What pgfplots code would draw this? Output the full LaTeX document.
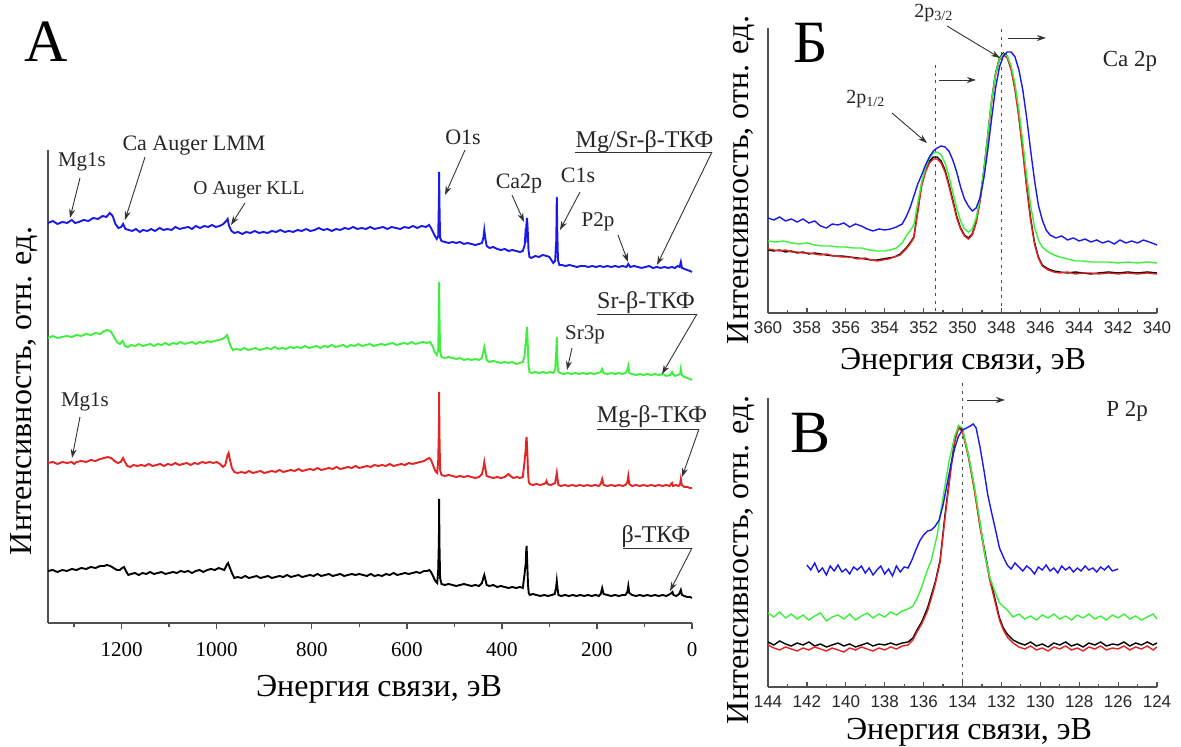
\documentclass[border=0pt]{standalone}
\usepackage{pgfplots}
\pgfplotsset{compat=1.18}
\usepackage{fontspec}
\setmainfont{Liberation Serif}
\newfontfamily\sansf{Liberation Sans}
\usetikzlibrary{arrows.meta}
\definecolor{cblue}{RGB}{25,25,235}
\definecolor{cgreen}{RGB}{60,240,60}
\definecolor{cred}{RGB}{230,35,35}
\definecolor{axgray}{RGB}{80,80,80}
\begin{document}
\begin{tikzpicture}
\path[use as bounding box] (0pt,0pt) rectangle (590.5pt,373.5pt);
\pgfplotsset{
  base/.style={scale only axis, axis lines=left, axis line style={-, axgray, line width=0.9pt},
    ytick=\empty, clip=false, y filter/.expression={747-y},
    /pgf/number format/assume math mode=true, /pgf/number format/1000 sep={}},
}
% ---------------- Panel A
\begin{axis}[base, at={(24pt,62pt)}, anchor=south west, width=322pt, height=236.5pt,
  xmin=0, xmax=1355, x dir=reverse, ymin=124, ymax=597,
  xtick={0,200,...,1200}, minor xtick={100,300,...,1300},
  tick align=outside, major tick length=3pt, minor tick length=2pt,
  tick style={axgray, line width=0.7pt},
  xticklabel style={font=\fontsize{10.5}{12}\selectfont, yshift=-3pt}]
\addplot[cblue, line width=0.95pt] coordinates {(1355,223) (1345,221) (1335,224) (1325,222) (1315,223) (1305,220) (1298,223) (1290,222) (1280,220) (1270,221) (1260,218) (1250,219) (1240,216) (1232,217) (1225,213) (1219,216) (1213,224) (1207,228) (1201,227) (1197,224) (1192,229) (1185,230) (1178,231) (1170,229) (1162,232) (1155,230) (1146,231) (1138,229) (1130,231) (1120,228) (1112,230) (1104,229) (1095,230) (1087,227) (1078,229) (1070,228) (1060,227) (1052,229) (1044,226) (1035,228) (1026,226) (1018,227) (1010,225) (1002,227) (994,226) (986,224) (980,221) (977,219) (974,226) (969,231) (963,233) (955,232) (946,234) (938,232) (929,233) (920,231) (911,233) (902,232) (893,233) (884,231) (875,232) (866,230) (857,232) (848,231) (839,232) (830,230) (821,231) (812,229) (803,231) (794,230) (785,228) (776,230) (767,229) (758,231) (749,229) (740,230) (731,228) (722,229) (713,227) (704,229) (695,228) (686,229) (677,227) (668,229) (659,228) (650,227) (641,229) (632,227) (623,228) (614,229) (605,227) (596,228) (587,226) (578,228) (569,226) (560,227) (553,225) (548,229) (542,235) (537,239) (534,236) (532.5,200) (532,172) (531.5,200) (530,238) (527,241) (520,242) (512,243) (504,242) (496,243) (488,242) (480,244) (472,243) (464,244) (456,245) (448,244) (442,243) (439,238) (437,230) (435,238) (432,246) (426,248) (418,247) (410,249) (402,250) (394,249) (386,251) (378,250) (370,251) (362,252) (356,251) (352,245) (350.5,234) (349.5,236) (348.5,225) (347,218) (345.5,232) (344,250) (342,257) (338,258) (330,256) (322,257) (314,255) (306,256) (300,257) (296,260) (292,263) (288,261) (285.5,240) (284.5,197) (283.5,230) (282,260) (279,265) (274,265) (266,266) (258,265) (250,266) (242,267) (234,266) (226,266) (218,267) (210,266) (202,267) (194,266) (186,267) (178,266) (170,267) (162,266) (154,267) (146,266) (138,267) (134,264) (130,267) (122,266) (114,267) (106,268) (98,267) (90,266) (82,268) (74,267) (66,268) (58,267) (50,268) (42,267) (36,268) (30,266) (26,267) (23.5,262) (21,268) (16,269) (10,270) (4,271) (0,272)};
\addplot[cgreen, line width=0.95pt] coordinates {(1355,338) (1345,336) (1335,338) (1325,337) (1315,336) (1305,337) (1295,335) (1285,336) (1275,334) (1265,335) (1255,333) (1245,334) (1237,331) (1229,330) (1222,332) (1216,337) (1210,342) (1204,344) (1198,341) (1193,346) (1187,347) (1180,345) (1172,346) (1164,344) (1156,346) (1148,345) (1140,344) (1132,346) (1124,344) (1116,345) (1108,343) (1100,345) (1092,343) (1084,344) (1076,342) (1068,344) (1060,343) (1052,342) (1044,344) (1036,342) (1028,343) (1020,341) (1012,342) (1004,341) (996,340) (988,339) (982,337) (978,335) (975,340) (971,346) (966,350) (958,349) (950,350) (942,348) (934,350) (926,349) (918,348) (910,350) (902,349) (894,348) (886,349) (878,347) (870,349) (862,348) (854,349) (846,347) (838,348) (830,347) (822,348) (814,346) (806,348) (798,347) (790,346) (782,348) (774,346) (766,347) (758,345) (750,347) (742,346) (734,345) (726,347) (718,345) (710,346) (702,344) (694,346) (686,345) (678,344) (670,346) (662,345) (654,344) (646,345) (638,344) (630,343) (622,345) (614,344) (606,343) (598,344) (590,342) (582,344) (574,343) (566,342) (558,343) (551,342) (546,346) (541,352) (537,355) (534,350) (532.5,310) (532,282) (531.5,310) (530,352) (527,357) (520,358) (512,357) (504,358) (496,359) (488,358) (480,360) (472,359) (464,360) (456,359) (448,360) (442,358) (439,352) (437,347) (435,352) (432,360) (426,362) (418,361) (410,362) (402,363) (394,362) (386,363) (378,362) (370,364) (362,363) (356,362) (352,355) (350.5,345) (349.5,345) (348.5,335) (347,327) (345.5,345) (344,365) (342,372) (338,373) (330,372) (322,373) (314,372) (306,373) (298,372) (292,373) (288,370) (285.5,350) (284.5,337) (283.5,355) (282,371) (278,373) (270,374) (262,373) (254,374) (246,373) (238,374) (230,373) (222,374) (214,373) (206,374) (198,373) (192,372) (189,369) (186,373) (178,374) (170,373) (162,374) (154,373) (146,374) (140,373) (136,370) (134,366) (132,373) (126,374) (118,375) (110,374) (102,375) (94,374) (86,375) (78,374) (70,375) (62,374) (54,376) (46,375) (42,372) (40,374) (36,376) (30,375) (25,374) (23.5,369) (21.5,375) (16,377) (10,378) (4,379) (0,380)};
\addplot[cred, line width=0.95pt] coordinates {(1355,463) (1345,462) (1335,464) (1325,462) (1315,463) (1305,462) (1300,464) (1295,462) (1285,461) (1275,462) (1265,460) (1255,461) (1245,459) (1237,458) (1229,457) (1222,458) (1215,461) (1208,463) (1202,462) (1197,458) (1193,462) (1188,466) (1182,467) (1175,465) (1167,466) (1159,465) (1151,466) (1143,464) (1135,466) (1127,465) (1119,464) (1111,466) (1103,464) (1095,465) (1087,463) (1079,465) (1071,464) (1063,463) (1055,465) (1047,463) (1039,464) (1031,462) (1023,463) (1015,462) (1007,463) (1000,462) (993,464) (987,467) (982,465) (977,455) (975,453) (972,460) (968,468) (963,472) (956,473) (948,472) (940,473) (932,471) (924,473) (916,472) (908,471) (900,473) (892,472) (884,471) (876,472) (868,470) (860,472) (852,471) (844,470) (836,471) (828,469) (820,471) (812,470) (804,469) (796,470) (788,468) (780,470) (772,469) (764,468) (756,469) (748,467) (740,469) (732,468) (724,467) (716,468) (708,466) (700,468) (692,467) (684,466) (676,467) (668,465) (660,466) (652,465) (644,466) (636,464) (628,466) (620,465) (612,464) (604,465) (596,463) (588,464) (580,463) (572,462) (564,461) (557,459) (553,458) (549,460) (545,465) (540,471) (536,473) (534,460) (532.5,430) (532,392) (531.5,430) (530,470) (527,475) (520,476) (512,475) (504,476) (496,477) (488,476) (480,477) (472,476) (464,477) (456,478) (448,477) (442,474) (439,468) (437,462) (435,468) (432,476) (426,477) (418,478) (410,477) (402,478) (394,477) (389,475) (386,474) (382,476) (376,478) (368,477) (362,478) (356,477) (352.5,462) (351,455) (350,450) (349,441) (348,437) (346.5,452) (345,472) (343.5,482) (341,484) (335,485) (327,484) (319,485) (312,484) (308,483) (306,481) (304,484) (298,485) (292,484) (288,483) (285.5,476) (284.5,473) (283.5,477) (281,485) (276,486) (268,485) (260,486) (252,485) (244,486) (236,485) (228,486) (220,485) (212,486) (204,485) (196,486) (192,484) (189,479) (186,485) (178,486) (170,485) (162,486) (154,485) (146,486) (140,485) (136,482) (134,476) (132,484) (126,486) (118,485) (110,486) (102,485) (94,486) (86,485) (78,486) (70,485) (62,486) (54,485) (47,486) (44,484) (42,483) (40,486) (34,485) (28,486) (25,484) (23.5,479) (21.5,485) (16,487) (10,487) (4,488) (0,488)};
\addplot[black, line width=0.95pt] coordinates {(1355,571) (1345,570) (1335,572) (1325,570) (1315,571) (1305,569) (1295,570) (1285,568) (1275,569) (1265,567) (1255,568) (1245,566) (1237,566) (1231,565) (1224,566) (1217,568) (1210,570) (1204,570) (1199,568) (1195,567) (1191,571) (1186,575) (1180,574) (1172,573) (1164,575) (1156,573) (1148,574) (1140,572) (1132,574) (1124,573) (1116,572) (1108,574) (1100,573) (1092,572) (1084,573) (1076,571) (1068,572) (1060,571) (1052,573) (1044,571) (1036,570) (1028,572) (1020,570) (1012,569) (1004,570) (996,568) (990,569) (984,570) (978,564) (976,563) (973,567) (968,573) (963,578) (956,577) (948,578) (940,576) (932,578) (924,577) (916,576) (908,578) (900,577) (892,576) (884,578) (876,577) (868,576) (860,577) (852,575) (844,577) (836,576) (828,575) (820,577) (812,576) (804,575) (796,576) (788,574) (780,576) (772,575) (764,574) (756,576) (748,575) (740,574) (732,576) (724,575) (716,574) (708,575) (700,574) (692,575) (684,576) (676,574) (668,576) (660,575) (652,576) (644,574) (636,575) (628,573) (620,575) (612,574) (604,573) (596,574) (588,573) (580,572) (572,573) (564,571) (557,571) (553,570) (549,572) (545,576) (540,581) (536,583) (534,570) (532.5,540) (532,499) (531.5,540) (530,578) (527,584) (520,585) (512,584) (504,585) (496,586) (488,585) (480,584) (472,585) (464,586) (456,585) (448,586) (442,583) (439,578) (437,575) (435,579) (432,585) (426,586) (418,585) (410,587) (402,586) (394,587) (386,588) (378,587) (370,588) (362,587) (356,588) (352.5,575) (351,568) (350,565) (349,552) (348,546) (346.5,565) (345,585) (343.5,593) (341,595) (335,594) (327,595) (319,596) (311,595) (303,596) (295,595) (289,594) (286,588) (284.5,581) (283,588) (281,595) (275,596) (267,595) (259,596) (251,595) (243,596) (235,595) (227,596) (219,595) (211,596) (203,595) (196,596) (192,594) (189,588) (186,594) (178,595) (170,596) (162,595) (154,596) (146,595) (140,595) (136,592) (134,586) (132,593) (126,595) (118,596) (110,595) (102,596) (94,595) (86,596) (78,595) (70,596) (62,595) (54,596) (46,594) (43,593) (41,592) (39,595) (33,596) (27,594) (23.5,590) (21,595) (16,596) (10,597) (4,597) (0,598)};
\end{axis}
% ---------------- Panel B (Ca 2p)
\begin{axis}[base, at={(384pt,217pt)}, anchor=south west, width=194.5pt, height=142.5pt,
  xmin=340, xmax=360, x dir=reverse, ymin=434, ymax=719,
  xtick={340,342,...,360}, minor x tick num=1,
  tick align=inside, major tick length=2.5pt, minor tick length=1.5pt,
  tick style={axgray, line width=0.6pt},
  xticklabel style={font=\sansf\fontsize{8.5}{10}\selectfont, text=black!85, yshift=-1pt}]
\addplot[black!70, line width=0.7pt, dash pattern=on 1.6pt off 2.2pt] coordinates {(351.4,65) (351.4,313)};
\addplot[black!70, line width=0.7pt, dash pattern=on 1.6pt off 2.2pt] coordinates {(348.0,29) (348.0,313)};
\addplot[black, line width=0.7pt] coordinates {(360,250) (359.7,251) (359.4,250) (359.1,252) (358.8,251) (358.5,253) (358.2,252) (357.9,254) (357.6,253) (357.3,254) (357,255) (356.6,256) (356.2,256) (355.8,257) (355.4,258) (355,259) (354.7,260) (354.4,260) (354.1,259) (353.8,258) (353.5,257) (353.2,254) (352.9,248) (352.7,243) (352.5,237) (352.3,210) (352.1,184) (351.9,170) (351.7,161) (351.5,157) (351.3,157) (351.1,161) (350.9,170) (350.7,184) (350.5,200) (350.3,216) (350.1,228) (349.9,235) (349.7,238) (349.5,234) (349.3,222) (349.1,200) (348.9,170) (348.7,135) (348.5,100) (348.3,73) (348.1,58) (347.9,53) (347.7,56) (347.5,68) (347.3,88) (347.1,116) (346.9,150) (346.7,186) (346.5,218) (346.3,242) (346.1,257) (345.9,265) (345.6,269) (345.3,271) (345,272) (344.6,273) (344.2,272) (343.8,273) (343.4,274) (343,273) (342.5,272) (342,273) (341.5,272) (341,273) (340.5,272) (340,273)};
\addplot[cred, line width=0.7pt] coordinates {(360,249) (359.7,250) (359.4,251) (359.1,250) (358.8,252) (358.5,252) (358.2,253) (357.9,253) (357.6,254) (357.3,255) (357,254) (356.6,256) (356.2,257) (355.8,257) (355.4,259) (355,258) (354.7,260) (354.4,261) (354.1,260) (353.8,259) (353.5,257) (353.2,255) (352.9,249) (352.7,244) (352.5,238) (352.3,212) (352.1,186) (351.9,172) (351.7,163) (351.5,159) (351.3,159) (351.1,163) (350.9,172) (350.7,186) (350.5,202) (350.3,218) (350.1,229) (349.9,236) (349.7,239) (349.5,235) (349.3,223) (349.1,202) (348.9,172) (348.7,137) (348.5,102) (348.3,75) (348.1,60) (347.9,55) (347.7,58) (347.5,70) (347.3,90) (347.1,118) (346.9,152) (346.7,188) (346.5,220) (346.3,244) (346.1,258) (345.9,266) (345.6,270) (345.3,272) (345,273) (344.6,272) (344.2,274) (343.8,273) (343.4,273) (343,274) (342.5,273) (342,274) (341.5,273) (341,274) (340.5,273) (340,274)};
\addplot[cgreen, line width=0.7pt] coordinates {(360,241) (359.6,242) (359.2,241) (358.8,243) (358.4,244) (358,243) (357.6,245) (357.2,246) (356.8,246) (356.4,247) (356,247) (355.6,248) (355.2,248) (354.8,250) (354.4,251) (354,251) (353.7,250) (353.4,248) (353.1,243) (352.9,236) (352.7,231) (352.5,225) (352.3,203) (352.1,182) (351.9,168) (351.7,158) (351.5,153) (351.3,152) (351.1,155) (350.9,163) (350.7,176) (350.5,192) (350.3,208) (350.1,221) (349.9,229) (349.7,232) (349.5,229) (349.3,218) (349.1,198) (348.9,170) (348.7,135) (348.5,100) (348.3,74) (348.1,59) (347.9,54) (347.7,56) (347.5,66) (347.3,84) (347.1,110) (346.9,142) (346.7,176) (346.5,205) (346.3,227) (346.1,240) (345.9,247) (345.6,252) (345.3,255) (345,257) (344.6,259) (344.2,261) (343.8,261) (343.4,262) (343,262) (342.5,262) (342,263) (341.5,262) (341,263) (340.5,262) (340,263)};
\addplot[cblue, line width=0.7pt] coordinates {(360,218) (359.7,220) (359.4,217) (359.1,221) (358.8,219) (358.5,222) (358.2,219) (357.9,223) (357.6,221) (357.3,226) (357,228) (356.7,224) (356.4,225) (356.1,223) (355.8,227) (355.5,224) (355.2,226) (354.9,229) (354.6,231) (354.3,229) (354,230) (353.7,229) (353.4,227) (353.1,224) (352.9,217) (352.7,208) (352.5,196) (352.3,184) (352.1,175) (351.9,165) (351.7,157) (351.5,151) (351.3,148) (351.1,146) (350.9,147) (350.7,151) (350.5,160) (350.3,172) (350.1,187) (349.9,199) (349.7,206) (349.5,211) (349.3,208) (349.1,198) (348.9,178) (348.7,150) (348.5,118) (348.3,88) (348.1,67) (347.9,56) (347.7,52) (347.5,52) (347.3,57) (347.1,70) (346.9,90) (346.7,118) (346.5,150) (346.3,180) (346.1,205) (345.9,220) (345.7,230) (345.5,235) (345.2,238) (344.9,236) (344.6,240) (344.3,238) (344,241) (343.7,239) (343.4,242) (343.1,240) (342.8,243) (342.5,241) (342.2,244) (341.9,240) (341.6,243) (341.3,241) (341,243) (340.7,240) (340.4,242) (340,245)};
\end{axis}
% ---------------- Panel V (P 2p)
\begin{axis}[base, at={(384pt,30pt)}, anchor=south west, width=194.5pt, height=144.5pt,
  xmin=124, xmax=144, x dir=reverse, ymin=60, ymax=349,
  xtick={124,126,...,144}, minor x tick num=1,
  tick align=inside, major tick length=2.5pt, minor tick length=1.5pt,
  tick style={axgray, line width=0.6pt},
  xticklabel style={font=\sansf\fontsize{8.5}{10}\selectfont, text=black!85, yshift=-1pt}]
\addplot[black!70, line width=0.7pt, dash pattern=on 1.6pt off 2.2pt] coordinates {(134,383) (134,687)};
\addplot[black, line width=0.7pt] coordinates {(144,642) (143.7,645) (143.4,641) (143.1,644) (142.8,646) (142.5,643) (142.2,645) (141.9,642) (141.6,646) (141.3,644) (141,647) (140.7,645) (140.4,643) (140.1,646) (139.8,644) (139.5,647) (139.2,645) (138.9,643) (138.6,646) (138.3,644) (138,645) (137.7,643) (137.4,645) (137.1,643) (136.8,642) (136.55,638) (136.34,630) (136.1,622) (135.8,608) (135.6,595) (135.4,582) (135.15,560) (134.9,515) (134.6,468) (134.4,440) (134.2,426) (134,430) (133.7,455) (133.4,487) (133.1,525) (132.85,552) (132.6,578) (132.4,593) (132.1,618) (131.9,628) (131.7,634) (131.4,640) (131.1,643) (130.8,645) (130.5,642) (130.2,646) (129.9,644) (129.6,647) (129.3,643) (129,645) (128.7,642) (128.4,646) (128.1,644) (127.8,647) (127.5,643) (127.2,645) (126.9,642) (126.6,646) (126.3,644) (126,645) (125.7,642) (125.4,646) (125.1,643) (124.8,645) (124.5,642) (124.2,645) (124,643)};
\addplot[cred, line width=0.7pt] coordinates {(144,645) (143.7,648) (143.4,650) (143.1,647) (142.8,649) (142.5,651) (142.2,648) (141.9,650) (141.6,647) (141.3,649) (141,651) (140.7,648) (140.4,650) (140.1,652) (139.8,648) (139.5,650) (139.2,647) (138.9,649) (138.6,651) (138.3,648) (138,650) (137.7,647) (137.4,649) (137.1,646) (136.8,645) (136.55,640) (136.34,632) (136.1,624) (135.8,611) (135.6,598) (135.4,584) (135.15,562) (134.9,518) (134.6,470) (134.4,442) (134.2,428) (134,432) (133.7,457) (133.4,489) (133.1,527) (132.85,555) (132.6,580) (132.4,596) (132.1,620) (131.9,630) (131.7,637) (131.4,643) (131.1,647) (130.8,649) (130.5,646) (130.2,650) (129.9,648) (129.6,651) (129.3,647) (129,649) (128.7,646) (128.4,650) (128.1,648) (127.8,651) (127.5,647) (127.2,649) (126.9,646) (126.6,650) (126.3,648) (126,649) (125.7,646) (125.4,650) (125.1,647) (124.8,649) (124.5,646) (124.2,650) (124,647)};
\addplot[cgreen, line width=0.7pt] coordinates {(144,613) (143.7,617) (143.4,612) (143.1,618) (142.8,614) (142.5,619) (142.2,615) (141.9,620) (141.6,616) (141.3,613) (141,621) (140.7,617) (140.4,615) (140.1,619) (139.8,614) (139.5,620) (139.2,616) (138.9,613) (138.6,618) (138.3,614) (138,617) (137.7,612) (137.4,615) (137.1,611) (136.8,609) (136.55,606) (136.3,597) (136.1,587) (135.8,570) (135.6,560) (135.3,535) (135.0,497) (134.7,462) (134.4,436) (134.2,426) (134.0,428) (133.7,455) (133.4,485) (133.1,522) (132.85,555) (132.6,577) (132.4,588) (132.1,603) (131.7,610) (131.4,617) (131.1,614) (130.8,619) (130.5,616) (130.2,620) (129.9,615) (129.6,618) (129.3,614) (129,619) (128.7,616) (128.4,620) (128.1,615) (127.8,618) (127.5,614) (127.2,619) (126.9,616) (126.6,620) (126.3,615) (126,618) (125.7,614) (125.4,619) (125.1,616) (124.8,620) (124.5,617) (124.2,614) (124,619)};
\addplot[cblue, line width=0.7pt] coordinates {(142,565) (141.8,570) (141.6,563) (141.4,572) (141.2,568) (141,575) (140.8,566) (140.6,571) (140.4,565) (140.2,572) (140,569) (139.8,574) (139.6,567) (139.4,570) (139.2,566) (139,573) (138.8,568) (138.6,575) (138.4,570) (138.2,566) (138,574) (137.8,569) (137.6,576) (137.4,566) (137.2,572) (137,567) (136.8,568) (136.6,560) (136.4,550) (136.2,541) (136,535) (135.8,531) (135.6,530) (135.4,526) (135.2,520) (135.0,505) (134.8,485) (134.6,465) (134.4,448) (134.2,436) (134,430) (133.8,428) (133.6,426) (133.45,424) (133.3,428) (133.1,447) (132.9,470) (132.7,495) (132.5,513) (132.3,530) (132.1,548) (131.9,557) (131.7,565) (131.5,569) (131.3,563) (131.1,567) (130.9,571) (130.7,566) (130.5,569) (130.3,574) (130.1,567) (129.9,570) (129.7,565) (129.5,571) (129.3,568) (129.1,573) (128.9,566) (128.7,570) (128.5,567) (128.3,572) (128.1,568) (127.9,571) (127.7,566) (127.5,570) (127.3,568) (127.1,572) (126.9,567) (126.7,570) (126.5,566) (126.3,571) (126,569)};
\end{axis}
% ---------------- annotations in pixel coordinates
\begin{scope}[x=0.5pt, y=-0.5pt, shift={(0pt,373.5pt)}]
\tikzset{ann/.style={draw=black!80, line width=0.45pt, -{Stealth[length=4.5pt,width=3pt]}},
         lab/.style={anchor=base, inner sep=0pt, font=\fontsize{10.5}{12}\selectfont, text=black!85},
         big/.style={font=\fontsize{16}{18}\selectfont, inner sep=0pt}}
% panel letters
\node[font=\fontsize{30}{32}\selectfont, inner sep=0pt] at (46,42) {А};
\node[font=\fontsize{30}{32}\selectfont, inner sep=0pt] at (811,43) {Б};
\node[font=\fontsize{30}{32}\selectfont, inner sep=0pt] at (810,433) {В};
% axis titles
\node[big, anchor=base] at (379,697) {Энергия связи, эВ};
\node[big, anchor=base] at (963,370) {Энергия связи, эВ};
\node[big, anchor=base] at (969,740) {Энергия связи, эВ};
\node[big, rotate=90] at (24,391) {Интенсивность, отн. ед.};
\node[big, rotate=90] at (741,180) {Интенсивность, отн. ед.};
\node[big, rotate=90] at (741,560) {Интенсивность, отн. ед.};
% panel A labels
\node[lab] at (82,167) {Mg1s};
\draw[ann] (80,178) -- (70,218);
\node[lab, font=\fontsize{11}{12}\selectfont] at (194,151) {Ca Auger LMM};
\draw[ann] (145,157) -- (125,220);
\node[lab, font=\fontsize{9.8}{12}\selectfont] at (249,195) {O Auger KLL};
\draw[ann] (245,203) -- (231,225);
\node[lab, font=\fontsize{11}{12}\selectfont] at (463,145) {O1s};
\draw[ann] (465,150) -- (445,195);
\node[lab, font=\fontsize{11}{12}\selectfont] at (519,189) {Ca2p};
\draw[ann] (512,195) -- (524,222);
\node[lab, font=\fontsize{11}{12}\selectfont] at (578,183) {C1s};
\draw[ann] (580,192) -- (560,230);
\node[lab] at (598,227) {P2p};
\draw[ann] (618,235) -- (628,262);
\node[lab, font=\fontsize{12}{14}\selectfont] at (644.5,148) {Mg/Sr-β-ТКФ};
\draw[black!80, line width=0.45pt] (575,152) -- (712,152);
\draw[ann] (712,152) -- (657,265);
\node[lab, font=\fontsize{12}{14}\selectfont] at (646,309) {Sr-β-ТКФ};
\draw[black!80, line width=0.45pt] (597,314) -- (697,314);
\draw[ann] (697,314) -- (662,374);
\node[lab] at (585,340) {Sr3p};
\draw[ann] (572,348) -- (567,370);
\node[lab, font=\fontsize{12}{14}\selectfont] at (652,423) {Mg-β-ТКФ};
\draw[black!80, line width=0.45pt] (597,429) -- (699,429);
\draw[ann] (699,429) -- (682,477);
\node[lab] at (85,407) {Mg1s};
\draw[ann] (80,417) -- (72,458);
\node[lab, font=\fontsize{12}{14}\selectfont] at (656,543) {β-ТКФ};
\draw[black!80, line width=0.45pt] (623,548) -- (692,548);
\draw[ann] (692,548) -- (670,591);
% panel B labels
\node[lab, anchor=base west, font=\fontsize{10}{11}\selectfont] at (914,18) {2p\textsubscript{3/2}};
\draw[ann] (947,26) -- (1000,58);
\node[lab, anchor=base west, font=\fontsize{10}{11}\selectfont] at (846,104) {2p\textsubscript{1/2}};
\draw[ann] (892,113) -- (927,143);
\draw[ann] (939,80) -- (976,80);
\draw[ann] (1008,38) -- (1046,38);
\node[lab, font=\fontsize{11.5}{13}\selectfont] at (1130,67) {Ca 2p};
% panel V labels
\draw[ann] (967,400) -- (1005,400);
\node[lab, font=\fontsize{11.5}{13}\selectfont] at (1127,417) {P 2p};
\end{scope}
\end{tikzpicture}
\end{document}
